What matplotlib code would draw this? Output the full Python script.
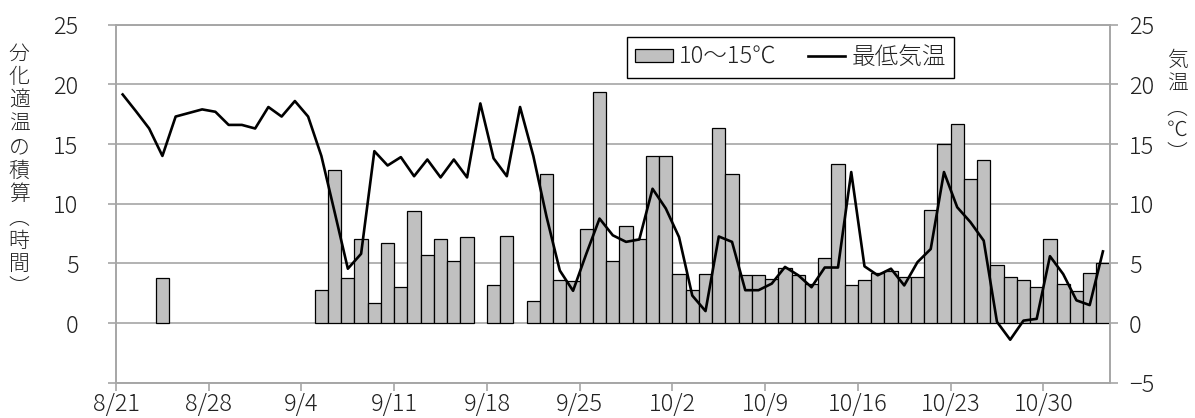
import numpy as np
import matplotlib
matplotlib.use("Agg")
import matplotlib.pyplot as plt

plt.rcParams['font.family'] = ['Noto Sans CJK JP', 'DejaVu Sans']
plt.rcParams['font.weight'] = 'light'

# daily records from 8/21 to 11/3
tick_labels = ["8/21", "8/28", "9/4", "9/11", "9/18", "9/25",
               "10/2", "10/9", "10/16", "10/23", "10/30"]

# hours spent at 10-15 C per day
hours = [
    0, 0, 0, 3.8, 0, 0, 0, 0, 0, 0,
    0, 0, 0, 0, 0, 2.8, 12.85, 3.8, 7.0, 1.7,
    6.7, 3.0, 9.35, 5.7, 7.0, 5.2, 7.2, 0, 3.2, 7.3,
    0, 1.85, 12.45, 3.6, 3.5, 7.85, 19.35, 5.2, 8.15, 7.0,
    14.0, 14.0, 4.1, 2.8, 4.1, 16.35, 12.45, 4.0, 4.0, 3.65,
    4.65, 4.0, 3.3, 5.45, 13.35, 3.2, 3.6, 4.15, 4.35, 3.85,
    3.85, 9.45, 15.0, 16.65, 12.05, 13.7, 4.9, 3.85, 3.6, 3.0,
    7.05, 3.3, 2.7, 4.15, 5.0,
]

# daily minimum temperature
min_temp = [
    19.15, 17.75, 16.3, 14.0, 17.3, 17.6, 17.9, 17.7, 16.6, 16.6,
    16.3, 18.1, 17.3, 18.6, 17.3, 14.0, 9.3, 4.55, 5.8, 14.4,
    13.2, 13.9, 12.3, 13.7, 12.2, 13.7, 12.2, 18.4, 13.8, 12.3,
    18.1, 14.0, 8.9, 4.4, 2.7, 5.8, 8.75, 7.35, 6.8, 7.0,
    11.25, 9.6, 7.2, 2.3, 1.0, 7.25, 6.8, 2.75, 2.75, 3.3,
    4.7, 4.0, 3.0, 4.65, 4.65, 12.65, 4.75, 4.0, 4.55, 3.15,
    5.1, 6.2, 12.65, 9.7, 8.45, 6.9, 0.1, -1.4, 0.2, 0.35,
    5.6, 4.1, 1.9, 1.5, 6.0,
]

grid_c = '#a6a6a6'
text_c = '#222222'

fig = plt.figure(figsize=(11.95, 4.18), dpi=100)
ax = fig.add_axes([0.0971, 0.0845, 0.8314, 0.8565])

x = np.arange(len(hours)) + 0.5
h = np.array(hours)
has = h > 0
ax.bar(x[has], h[has], width=1.0, color='#c0c0c0', edgecolor='black',
       linewidth=0.9, label='10～15℃')

ax2 = ax.twinx()
ax2.plot(x, min_temp, color='black', lw=1.9, label='最低気温')

for a in (ax, ax2):
    a.set_xlim(0, len(hours))
    a.set_ylim(-5, 25)
    a.set_yticks(np.arange(-5, 26, 5))
    for s in a.spines.values():
        s.set_color(grid_c)
        s.set_linewidth(1.2)

ax.set_xticks(np.arange(0, len(hours), 7))
ax.set_xticklabels(tick_labels)
ax.set_yticklabels([''] + [str(v) for v in range(0, 26, 5)])
ax.yaxis.grid(True, color=grid_c, lw=1.2)
ax.set_axisbelow(True)

ax.tick_params(axis='x', length=6, width=1.2, color=grid_c, pad=1,
               labelsize=17, labelcolor=text_c)
ax.tick_params(axis='y', length=6, width=1.2, color=grid_c, pad=21,
               labelsize=17, labelcolor=text_c)
ax2.tick_params(axis='y', length=6, width=1.2, color=grid_c, pad=8,
                labelsize=17, labelcolor=text_c)

# stacked vertical axis titles
fig.text(0.016, 0.592, "\n".join("分化適温の積算︵時間︶"), ha='center',
         va='center', fontsize=15, linespacing=1.08, color=text_c)
fig.text(0.985, 0.745, "\n".join("気温︵℃︶"), ha='center', va='center',
         fontsize=15, linespacing=1.08, color=text_c)

h1, l1 = ax.get_legend_handles_labels()
h2, l2 = ax2.get_legend_handles_labels()
leg = ax2.legend(h1 + h2, l1 + l2, loc='upper center',
                 bbox_to_anchor=(0.679, 0.9665), ncol=2, fancybox=False,
                 edgecolor='black', framealpha=1, borderpad=0.35,
                 handlelength=1.6, handleheight=0.5, handletextpad=0.25,
                 columnspacing=1.3, fontsize=17, borderaxespad=0)
leg.get_frame().set_linewidth(1.0)
for t in leg.get_texts():
    t.set_color(text_c)

fig.savefig('out.png', dpi=100)
